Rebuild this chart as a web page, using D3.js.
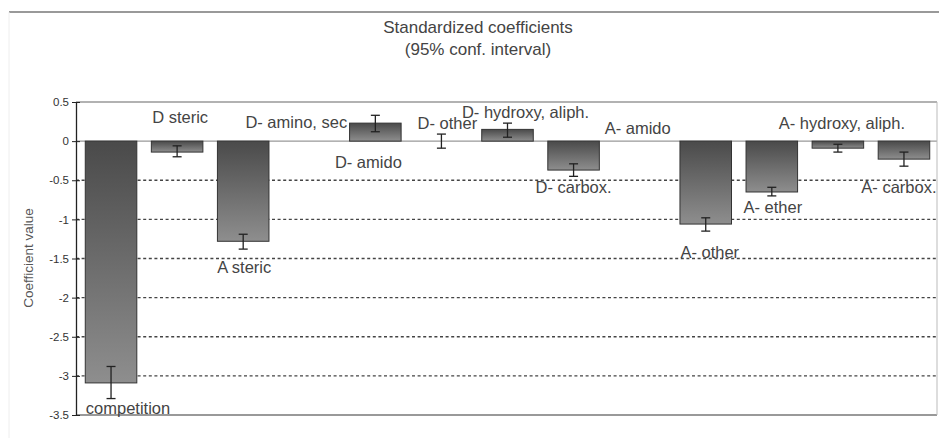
<!DOCTYPE html>
<html>
<head>
<meta charset="utf-8">
<script src="https://cdn.jsdelivr.net/npm/d3@7"></script>
<style>
  body { margin: 0; background: #fff; }
  svg { display: block; font-family: "Liberation Sans", Arial, sans-serif; }
</style>
</head>
<body>
<svg id="chart" width="939" height="438"></svg>
<script>
const categories = ['competition', 'D steric', 'A steric', 'D- amino, sec', 'D- amido', 'D- other',
  'D- hydroxy, aliph.', 'D- carbox.', 'A- amido', 'A- other', 'A- ether', 'A- hydroxy, aliph.', 'A- carbox.'];
const values = [-3.09, -0.14, -1.28, 0, 0.23, 0, 0.15, -0.37, 0, -1.06, -0.65, -0.09, -0.23];
const errLow = [-3.29, -0.20, -1.38, null, 0.12, -0.09, 0.05, -0.45, null, -1.15, -0.70, -0.14, -0.32];
const errHigh = [-2.88, -0.06, -1.19, null, 0.33, 0.09, 0.23, -0.29, null, -0.98, -0.59, -0.04, -0.14];
const yTicks = [0.5, 0, -0.5, -1, -1.5, -2, -2.5, -3, -3.5];
// where each data label sits (value level) and a small sideways nudge
const labelAt = [-3.41, 0.31, -1.61, 0.245, -0.27, 0.23, 0.37, -0.59, 0.17, -1.42, -0.85, 0.23, -0.59];
const labelShift = [17, 3, 1, -13, -7, 6, 18, 0, -2, 4, 1, 4, -5];

const svg = d3.select('#chart');
const plotL = 76, plotR = 937, plotT = 102, plotB = 415;

const x = d3.scaleBand().domain(categories).range([plotL + 2, plotR]).paddingInner(0.22).paddingOuter(0.11);
const y = d3.scaleLinear().domain([-3.5, 0.5]).range([plotB, plotT]);

const defs = svg.append('defs');
const grad = defs.append('linearGradient').attr('id', 'barFill')
  .attr('x1', 0).attr('y1', 0).attr('x2', 0).attr('y2', 1);
grad.append('stop').attr('offset', '0%').attr('stop-color', '#4a4a4a');
grad.append('stop').attr('offset', '100%').attr('stop-color', '#8e8e8e');

// frame line at the very top
svg.append('line').attr('x1', 9).attr('x2', 939).attr('y1', 12).attr('y2', 12)
  .attr('stroke', '#777').attr('stroke-width', 1.5);
svg.append('line').attr('x1', 9).attr('x2', 9).attr('y1', 12).attr('y2', 438)
  .attr('stroke', '#eee');

svg.append('text').attr('x', 478).attr('y', 33).attr('text-anchor', 'middle')
  .attr('font-size', 17).attr('fill', '#444').text('Standardized coefficients');
svg.append('text').attr('x', 478).attr('y', 55).attr('text-anchor', 'middle')
  .attr('font-size', 17).attr('fill', '#444').text('(95% conf. interval)');

// grid
const solid = d => d === 0.5 || d === 0 || d === -3.5;
svg.append('g').selectAll('line').data(yTicks).join('line')
  .attr('x1', plotL).attr('x2', plotR)
  .attr('y1', d => y(d)).attr('y2', d => y(d))
  .attr('stroke', d => solid(d) ? '#999' : '#444')
  .attr('stroke-width', d => d === -3.5 ? 2 : 1.3)
  .attr('stroke-dasharray', d => solid(d) ? null : '3,2.6');
svg.append('line').attr('x1', plotR).attr('x2', plotR).attr('y1', plotT).attr('y2', plotB)
  .attr('stroke', '#bbb');

// bars
svg.append('g').selectAll('rect').data(values).join('rect')
  .attr('x', (d, i) => x(categories[i]))
  .attr('width', x.bandwidth())
  .attr('y', d => y(Math.max(0, d)))
  .attr('height', d => Math.abs(y(d) - y(0)))
  .attr('fill', 'url(#barFill)')
  .attr('stroke', '#333').attr('stroke-width', 1)
  .attr('display', d => d === 0 ? 'none' : null);

// error bars
const errs = categories.map((c, i) => ({ c, lo: errLow[i], hi: errHigh[i] })).filter(d => d.lo !== null);
const eg = svg.append('g').attr('stroke', '#222').attr('stroke-width', 1.3);
const cx = d => x(d.c) + x.bandwidth() / 2;
eg.selectAll('.v').data(errs).join('line').attr('class', 'v')
  .attr('x1', cx).attr('x2', cx).attr('y1', d => y(d.lo)).attr('y2', d => y(d.hi));
eg.selectAll('.lo').data(errs).join('line').attr('class', 'lo')
  .attr('x1', d => cx(d) - 4.5).attr('x2', d => cx(d) + 4.5).attr('y1', d => y(d.lo)).attr('y2', d => y(d.lo));
eg.selectAll('.hi').data(errs).join('line').attr('class', 'hi')
  .attr('x1', d => cx(d) - 4.5).attr('x2', d => cx(d) + 4.5).attr('y1', d => y(d.hi)).attr('y2', d => y(d.hi));

// data labels
svg.append('g').selectAll('text').data(categories).join('text')
  .attr('x', (d, i) => x(d) + x.bandwidth() / 2 + labelShift[i])
  .attr('y', (d, i) => y(labelAt[i]))
  .attr('dy', '0.35em')
  .attr('text-anchor', 'middle')
  .attr('font-size', 16.5).attr('fill', '#444')
  .text(d => d);

// y axis (plain hyphen minus like the original)
const yAxis = svg.append('g').attr('transform', `translate(${plotL},0)`)
  .call(d3.axisLeft(y).tickValues(yTicks).tickFormat(d => String(d)).tickSizeInner(4).tickSizeOuter(0).tickPadding(5));
yAxis.select('.domain').attr('stroke', '#222').attr('stroke-width', 1.3);
yAxis.selectAll('.tick line').attr('x2', 4).attr('x1', -4).attr('stroke', '#222');
yAxis.selectAll('.tick text').attr('font-size', 11.5).attr('fill', '#333').attr('x', -7)
  .attr('font-family', '"Liberation Sans", Arial, sans-serif');

svg.append('text').attr('transform', 'translate(33,258) rotate(-90)')
  .attr('text-anchor', 'middle').attr('font-size', 13.5).attr('fill', '#555')
  .text('Coefficient value');
</script>
</body>
</html>
